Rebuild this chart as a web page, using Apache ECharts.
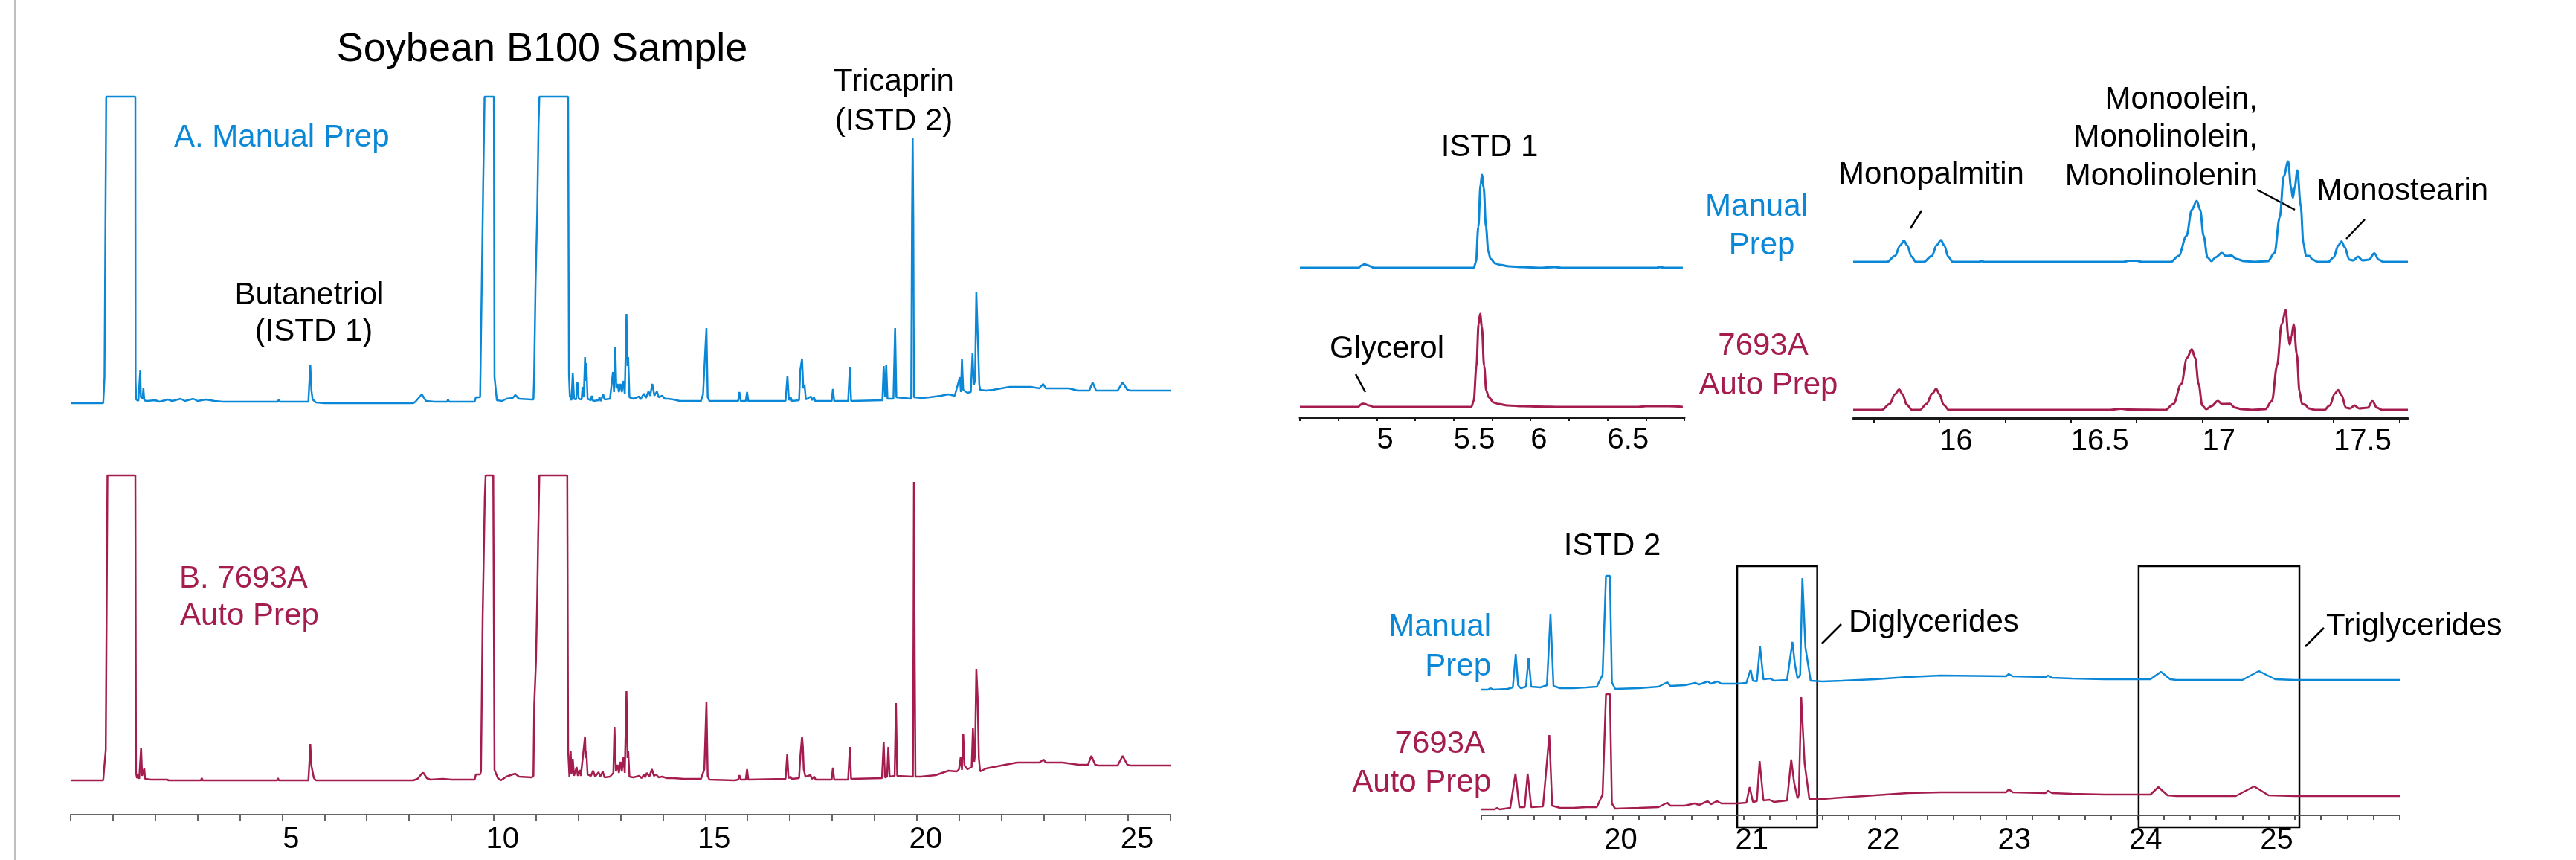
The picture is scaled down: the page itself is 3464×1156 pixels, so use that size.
<!DOCTYPE html>
<html lang="en">
<head>
<meta charset="UTF-8">
<title>Soybean B100 Sample</title>
<style>html,body{margin:0;padding:0;background:#fff}</style>
</head>
<body>
<div id="chart" style="width:3464px;height:1156px"></div>
<script src="https://cdn.jsdelivr.net/npm/echarts@6/dist/echarts.min.js"></script>
<script>
// retention time (min) vs. abundance (arbitrary units)
var leftLabels = [5, 10, 15, 20, 25];
var istd1Labels = [5, 5.5, 6, 6.5];
var monoLabels = [16, 16.5, 17, 17.5];
var glycLabels = [20, 21, 22, 23, 24, 25];

// full run, A. manual prep
var fullManual = [[0,0],[0.77,0],[0.785,17],[0.80,35],[0.84,412],[1.53,412],[1.535,31],[1.55,5],[1.60,3],[1.645,44],[1.66,8],[1.70,6],[1.72,20],[1.74,4],[1.80,3],[2.0,4],[2.1,2],[2.3,5],[2.4,3],[2.6,6],[2.7,3],[2.9,6],[3.0,3],[3.2,5],[3.4,3],[3.6,2],[4.4,2],[4.9,2],[4.92,5],[4.95,2],[5.62,2],[5.645,30],[5.665,52],[5.69,18],[5.72,5],[5.8,1],[6.0,0],[8.1,0],[8.15,2],[8.3,12],[8.4,3],[8.6,2],[8.9,2],[8.92,5],[8.95,2],[9.55,2],[9.58,8],[9.68,8],[9.71,9],[9.75,285],[9.785,412],[10.005,412],[10.02,35],[10.075,4],[10.2,3],[10.3,6],[10.45,7],[10.51,11],[10.6,6],[10.9,5],[10.94,5],[10.955,31],[10.99,161],[11.03,257],[11.06,372],[11.08,412],[11.76,412],[11.78,39],[11.80,10],[11.84,4],[11.87,41],[11.9,6],[11.95,5],[11.98,29],[12.01,6],[12.08,5],[12.10,22],[12.13,8],[12.16,62],[12.175,30],[12.19,54],[12.22,6],[12.3,4],[12.32,10],[12.35,3],[12.48,4],[12.5,8],[12.53,3],[12.59,12],[12.62,5],[12.75,6],[12.82,42],[12.845,15],[12.875,76],[12.9,20],[12.93,26],[12.96,15],[13.0,26],[13.03,15],[13.07,30],[13.1,12],[13.14,120],[13.165,50],[13.18,62],[13.21,8],[13.3,6],[13.44,9],[13.47,5],[13.55,13],[13.6,7],[13.66,16],[13.7,10],[13.75,26],[13.8,10],[13.86,16],[13.9,8],[13.98,10],[14.05,6],[14.12,6],[14.25,5],[14.4,3],[14.9,3],[14.95,12],[14.99,57],[15.03,101],[15.06,8],[15.1,3],[15.78,3],[15.81,15],[15.84,3],[15.96,3],[15.99,15],[16.02,3],[16.9,3],[16.945,37],[16.98,4],[17.02,8],[17.05,3],[17.22,4],[17.25,45],[17.29,60],[17.32,20],[17.35,24],[17.38,5],[17.5,9],[17.53,4],[17.57,8],[17.6,3],[17.99,3],[18.02,19],[18.05,3],[18.38,3],[18.42,49],[18.45,3],[19.19,4],[19.22,50],[19.25,8],[19.28,52],[19.31,6],[19.45,6],[19.49,101],[19.52,8],[19.87,6],[19.89,250],[19.905,357],[19.92,250],[19.935,8],[20.13,7],[20.3,8],[20.57,10],[20.75,12],[20.9,10],[21.02,35],[21.045,15],[21.07,59],[21.1,18],[21.2,14],[21.28,15],[21.32,67],[21.35,25],[21.38,30],[21.41,150],[21.45,80],[21.48,25],[21.5,18],[21.64,17],[21.8,18],[22.0,20],[22.2,22],[22.7,22],[22.9,20],[22.99,26],[23.05,20],[23.6,20],[23.8,17],[24.08,17],[24.16,28],[24.24,17],[24.75,17],[24.87,28],[24.98,18],[25.06,17],[26,17]];

// full run, B. 7693A auto prep
var fullAuto = [[0,0],[0.77,0],[0.79,15],[0.83,41],[0.87,410],[1.53,410],[1.545,10],[1.57,3],[1.60,8],[1.62,2],[1.665,44],[1.69,6],[1.72,4],[1.74,16],[1.76,2],[1.9,1],[1.92,3],[1.95,1],[2.28,1],[2.3,3],[2.32,0],[3.08,0],[3.1,3],[3.12,0],[3.2,0],[3.22,2],[3.24,0],[4.88,0],[4.9,3],[4.92,0],[5.62,0],[5.65,30],[5.665,49],[5.69,20],[5.72,18],[5.75,3],[5.8,0],[8.1,0],[8.2,2],[8.3,9],[8.34,10],[8.42,3],[8.5,1],[8.8,2],[9.0,1],[9.3,1],[9.55,1],[9.58,8],[9.68,8],[9.7,12],[9.74,221],[9.79,380],[9.81,410],[9.99,410],[10.02,14],[10.1,3],[10.17,0],[10.3,5],[10.45,8],[10.51,9],[10.6,5],[10.9,4],[10.94,6],[10.96,103],[11.0,160],[11.03,246],[11.05,322],[11.08,410],[11.74,410],[11.76,41],[11.79,5],[11.82,40],[11.84,8],[11.87,29],[11.9,6],[11.96,18],[11.99,6],[12.03,14],[12.06,6],[12.16,59],[12.175,30],[12.19,40],[12.22,8],[12.3,6],[12.35,13],[12.4,5],[12.48,11],[12.52,5],[12.58,12],[12.62,4],[12.75,5],[12.83,10],[12.856,72],[12.89,12],[12.93,21],[12.96,10],[13.0,25],[13.03,12],[13.07,31],[13.1,10],[13.14,120],[13.165,30],[13.18,40],[13.21,5],[13.3,4],[13.44,6],[13.5,3],[13.55,8],[13.58,4],[13.62,10],[13.68,5],[13.74,15],[13.79,6],[13.84,8],[13.9,4],[13.98,5],[14.1,3],[14.25,3],[14.5,2],[14.9,2],[14.98,15],[15.0,50],[15.03,105],[15.06,6],[15.1,1],[15.7,0],[15.78,1],[15.81,7],[15.84,1],[15.96,1],[15.99,15],[16.02,1],[16.9,2],[16.94,35],[16.97,3],[17.02,5],[17.05,2],[17.22,3],[17.25,33],[17.29,59],[17.31,45],[17.33,15],[17.37,5],[17.49,7],[17.52,2],[17.58,5],[17.61,1],[17.99,1],[18.02,17],[18.05,1],[18.38,1],[18.42,45],[18.45,2],[19.18,3],[19.22,52],[19.25,4],[19.3,5],[19.33,45],[19.36,5],[19.48,6],[19.51,104],[19.54,6],[19.91,5],[19.925,200],[19.935,401],[19.945,401],[19.955,150],[19.97,5],[20.1,5],[20.45,7],[20.7,12],[20.75,13],[20.95,12],[21.0,15],[21.04,31],[21.07,14],[21.1,63],[21.13,20],[21.2,15],[21.3,18],[21.33,70],[21.36,25],[21.38,35],[21.41,150],[21.44,113],[21.47,30],[21.5,12],[21.64,16],[22.0,20],[22.37,24],[22.9,24],[23.0,28],[23.05,24],[23.45,24],[23.83,21],[24.05,21],[24.13,33],[24.22,21],[24.3,20],[24.75,20],[24.87,33],[24.98,21],[25.05,20],[26,20]];

// glycerol / ISTD 1 window
var istd1Manual = [[4.5,0],[4.88,0],[4.9,3],[4.92,4.7],[4.94,3.5],[4.96,2],[4.98,0],[5.63,0],[5.645,8],[5.66,55],[5.675,112],[5.684,125],[5.695,108],[5.71,55],[5.725,22],[5.74,12],[5.77,6],[5.80,4],[5.86,2],[5.95,1],[6.05,0],[6.16,1],[6.2,0],[6.82,0],[6.84,1],[6.87,0],[6.99,0]];
var istd1Auto = [[4.5,0],[4.88,0],[4.895,3],[4.905,4.3],[4.92,4],[4.95,2],[4.98,0],[5.615,0],[5.63,8],[5.648,55],[5.662,112],[5.672,125],[5.683,108],[5.698,55],[5.712,22],[5.728,13],[5.76,6],[5.79,4],[5.85,2],[5.95,1],[6.05,0.5],[6.2,0],[6.7,0],[6.75,1],[6.9,1],[6.99,0]];

// monoglyceride window
var monoManual = [[15.671,0],[15.80,0],[15.83,8],[15.85,22],[15.864,28.6],[15.877,22],[15.893,7],[15.91,0],[15.94,0],[15.97,8],[15.99,23],[16.005,29.3],[16.018,22],[16.033,7],[16.05,0],[16.15,0],[16.16,1],[16.17,0],[16.7,0],[16.72,1.5],[16.75,1.5],[16.77,0],[16.88,0],[16.91,8],[16.94,35],[16.96,70],[16.979,82],[16.992,70],[17.005,35],[17.02,6],[17.035,1],[17.05,6],[17.075,12],[17.09,8],[17.111,8.6],[17.13,4],[17.16,1],[17.2,0],[17.25,1],[17.275,12],[17.295,60],[17.31,115],[17.327,135],[17.338,100],[17.345,86],[17.352,100],[17.362,123],[17.375,75],[17.385,25],[17.395,8],[17.408,8],[17.42,3],[17.44,0],[17.48,0],[17.5,6],[17.518,22],[17.53,27.5],[17.542,20],[17.56,3],[17.575,2],[17.593,7],[17.61,2],[17.635,3],[17.655,11.4],[17.672,3],[17.69,0],[17.783,0]];
var monoAuto = [[15.671,0],[15.78,0],[15.81,8],[15.83,21],[15.846,27.5],[15.859,21],[15.875,7],[15.895,0],[15.925,0],[15.95,8],[15.972,22],[15.987,28.2],[16.0,21],[16.015,7],[16.035,0],[16.65,0],[16.69,1.5],[16.72,0.5],[16.86,0],[16.89,8],[16.92,35],[16.942,70],[16.96,81.4],[16.973,70],[16.986,35],[17.0,6],[17.015,1],[17.035,5],[17.059,12],[17.075,8],[17.105,8.2],[17.125,3],[17.15,1],[17.19,0],[17.24,1],[17.265,12],[17.285,60],[17.302,115],[17.318,134],[17.327,100],[17.333,87.5],[17.34,100],[17.348,115],[17.36,75],[17.37,25],[17.38,8],[17.392,7],[17.405,2],[17.43,0],[17.465,0],[17.485,6],[17.505,22],[17.517,26.8],[17.53,20],[17.547,3],[17.563,2],[17.58,6],[17.597,2],[17.63,3],[17.648,11.8],[17.665,3],[17.685,0],[17.783,0]];

// ISTD 2 / di- and triglyceride window
var glycManual = [[19.0,0],[19.05,0],[19.07,2],[19.09,0],[19.2,1],[19.24,3],[19.262,48],[19.28,6],[19.3,2],[19.34,4],[19.36,43],[19.38,4],[19.45,3],[19.5,6],[19.527,101],[19.55,5],[19.6,2],[19.7,2],[19.8,3],[19.88,4],[19.924,20],[19.95,153],[19.98,153],[19.995,10],[20.02,1],[20.2,2],[20.35,4],[20.417,10],[20.44,5],[20.55,6],[20.63,9],[20.66,7],[20.727,11],[20.75,8],[20.8,11],[20.83,8],[20.95,8],[21.02,9],[21.052,27],[21.07,12],[21.1,11],[21.124,58],[21.15,14],[21.204,15],[21.23,12],[21.33,13],[21.371,64],[21.39,34],[21.41,15],[21.43,20],[21.447,150],[21.47,57],[21.51,12],[21.6,11],[21.75,12],[22.0,14],[22.25,17],[22.5,19],[23.0,18],[23.02,21],[23.05,18],[23.3,17],[23.32,19],[23.35,16],[23.5,15],[23.75,14],[24.0,14],[24.1,14],[24.18,24],[24.25,14],[24.3,13],[24.8,13],[24.926,25],[25.05,14],[25.2,13],[26.0,13]];
var glycAuto = [[19.0,0],[19.1,0],[19.12,2],[19.14,0],[19.22,2],[19.26,48],[19.29,3],[19.33,3],[19.353,48],[19.38,3],[19.47,4],[19.518,100],[19.54,5],[19.6,2],[19.7,2],[19.8,3],[19.88,3],[19.924,20],[19.95,155],[19.98,155],[19.995,8],[20.02,1],[20.2,2],[20.35,3],[20.417,9],[20.44,5],[20.55,5],[20.625,8],[20.66,6],[20.725,11],[20.75,7],[20.797,11],[20.83,8],[20.95,8],[21.02,9],[21.045,30],[21.07,10],[21.1,11],[21.121,65],[21.15,12],[21.196,13],[21.23,10],[21.33,12],[21.362,67],[21.384,36],[21.41,15],[21.42,20],[21.438,151],[21.464,62],[21.5,14],[21.6,14],[21.75,16],[22.0,19],[22.25,22],[22.5,23],[23.0,23],[23.02,27],[23.05,23],[23.3,22],[23.32,25],[23.35,22],[23.5,21],[23.75,20],[24.0,20],[24.1,20],[24.16,30],[24.23,19],[24.3,18],[24.75,18],[24.89,31],[25.0,19],[25.2,18],[26.0,18]];

var diglycBox = [20.95, 21.56];
var triglycBox = [24.01, 25.235];

var BLUE = '#0a87d6', RED = '#a51d4f';
var FONT = "'Liberation Sans', Arial, sans-serif";

function steps(a, b, s) {
    var out = [];
    for (var v = a; v <= b + 1e-9; v += s) out.push(Math.round(v * 1000) / 1000);
    return out;
}

var grids = [], xAxes = [], yAxes = [], series = [];

// one trace = one grid, 1 abundance unit = 1 px
function trace(data, color, lw, left, width, base, xr, yMax, smooth) {
    var g = grids.length;
    grids.push({left: left, width: width, top: base - yMax, height: yMax, outerBoundsMode: 'none'});
    var xi = xAxes.length;
    xAxes.push({gridIndex: g, type: 'value', min: xr[0], max: xr[1], show: false});
    yAxes.push({gridIndex: g, type: 'value', min: 0, max: yMax, show: false});
    series.push({
        type: 'line', xAxisIndex: xi, yAxisIndex: g, data: data,
        symbol: 'none', showSymbol: false, smooth: smooth || false, smoothMonotone: 'x',
        clip: false, silent: true, animation: false,
        lineStyle: {color: color, width: lw}, itemStyle: {color: color}
    });
    return {g: g, xi: xi, xr: xr};
}

function showAxis(t, offset, o) {
    var ax = xAxes[t.xi];
    ax.show = true;
    ax.position = 'bottom';
    ax.offset = offset;
    ax.splitLine = {show: false};
    ax.axisLine = {show: true, onZero: false, lineStyle: {color: o.color, width: o.lw}};
    ax.axisTick = {show: true, inside: false, length: o.tick, customValues: o.ticks, lineStyle: {color: o.color, width: 2}};
    ax.axisLabel = {show: true, customValues: o.labels, color: '#000', fontSize: 40, fontFamily: FONT,
        margin: o.margin, align: o.align || 'center', padding: o.padding || 0};
    if (o.minor) {
        xAxes.push({gridIndex: t.g, type: 'value', min: t.xr[0], max: t.xr[1], position: 'bottom', offset: offset,
            axisLine: {show: false, onZero: false}, axisLabel: {show: false}, splitLine: {show: false},
            axisTick: {show: true, length: o.minorLen, customValues: o.minor, lineStyle: {color: o.color, width: 1.5}}});
    }
}

// left: full chromatograms
trace(fullManual, BLUE, 2.5, 95, 1479, 542, [0, 26], 412);
var lAuto = trace(fullAuto, RED, 2.5, 95, 1479, 1049, [0, 26], 410);
showAxis(lAuto, 46, {color: '#666', lw: 2, tick: 8, ticks: steps(0, 26, 1), labels: leftLabels, margin: 14, padding: [0, 0, 0, 24]});

// upper right: ISTD 1 window
trace(istd1Manual, BLUE, 3, 1748, 517, 360, [4.5, 7.0], 125, 0.35);
var uAuto = trace(istd1Auto, RED, 3, 1748, 517, 547, [4.5, 7.0], 125, 0.35);
showAxis(uAuto, 14, {color: '#1a1a1a', lw: 3, tick: 5, ticks: steps(4.5, 7.0, 0.25), labels: istd1Labels, margin: 11, align: 'left',
    minor: steps(4.5, 7.0, 0.05), minorLen: 2});

// upper right: monoglycerides
trace(monoManual, BLUE, 3, 2492, 746, 352, [15.671, 17.783], 135, 0.35);
var mAuto = trace(monoAuto, RED, 3, 2492, 746, 551, [15.671, 17.783], 135, 0.35);
showAxis(mAuto, 11, {color: '#1a1a1a', lw: 3, tick: 6, ticks: steps(15.75, 17.75, 0.25), labels: monoLabels, margin: 12, align: 'left',
    minor: steps(15.7, 17.75, 0.05), minorLen: 3});

// lower right: ISTD 2, di- and triglycerides
var gMan = trace(glycManual, BLUE, 2.5, 1992, 1235, 927, [19, 26], 153);
var gAuto = trace(glycAuto, RED, 2.5, 1992, 1235, 1088, [19, 26], 155);
showAxis(gAuto, 8, {color: '#555', lw: 2, tick: 6, ticks: steps(19, 26, 0.2), labels: glycLabels, margin: 14, padding: [0, 0, 0, 22]});

var texts = [
    ['Soybean B100 Sample', 729, 67, 54, '#000', 'center'],
    ['A. Manual Prep', 234, 185, 42, BLUE, 'left'],
    ['Butanetriol', 416, 397, 42, '#000', 'center'],
    ['(ISTD 1)', 422, 446, 42, '#000', 'center'],
    ['Tricaprin', 1202, 110, 42, '#000', 'center'],
    ['(ISTD 2)', 1202, 163, 42, '#000', 'center'],
    ['B. 7693A', 241, 778, 42, RED, 'left'],
    ['Auto Prep', 242, 828, 42, RED, 'left'],
    ['ISTD 1', 2003, 198, 42, '#000', 'center'],
    ['Glycerol', 1865, 469, 42, '#000', 'center'],
    ['Manual', 2362, 278, 42, BLUE, 'center'],
    ['Prep', 2369, 330, 42, BLUE, 'center'],
    ['7693A', 2371, 465, 42, RED, 'center'],
    ['Auto Prep', 2378, 518, 42, RED, 'center'],
    ['Monopalmitin', 2597, 235, 42, '#000', 'center'],
    ['Monoolein,', 3036, 134, 42, '#000', 'right'],
    ['Monolinolein,', 3036, 185, 42, '#000', 'right'],
    ['Monolinolenin', 3036, 237, 42, '#000', 'right'],
    ['Monostearin', 3115, 257, 42, '#000', 'left'],
    ['ISTD 2', 2168, 734, 42, '#000', 'center'],
    ['Manual', 2005, 843, 42, BLUE, 'right'],
    ['Prep', 2005, 896, 42, BLUE, 'right'],
    ['7693A', 1997, 1000, 42, RED, 'right'],
    ['Auto Prep', 2005, 1052, 42, RED, 'right'],
    ['Diglycerides', 2486, 837, 42, '#000', 'left'],
    ['Triglycerides', 3128, 842, 42, '#000', 'left']
];
var leaders = [
    [1823, 503, 1836, 527],
    [2584, 283, 2569, 307],
    [3035, 255, 3086, 282],
    [3180, 295, 3155, 321],
    [2450, 865, 2476, 839],
    [3100, 869, 3125, 844]
];

var graphic = [{id: 'frame', type: 'line', shape: {x1: 20, y1: 0, x2: 20, y2: 1156}, style: {stroke: '#bfbfbf', lineWidth: 2}}];
texts.forEach(function (t, i) {
    graphic.push({id: 'txt' + i, type: 'text', silent: true, style: {
        text: t[0], x: t[1], y: t[2], fill: t[4], fontSize: t[3], fontFamily: FONT,
        textAlign: t[5], textVerticalAlign: 'middle'}});
});
leaders.forEach(function (l, i) {
    graphic.push({id: 'lead' + i, type: 'line', silent: true, shape: {x1: l[0], y1: l[1], x2: l[2], y2: l[3]},
        style: {stroke: '#000', lineWidth: 2.5}});
});

var myChart = echarts.init(document.getElementById('chart'), null, {renderer: 'canvas'});
myChart.setOption({
    backgroundColor: '#fff',
    animation: false,
    grid: grids,
    xAxis: xAxes,
    yAxis: yAxes,
    series: series,
    graphic: graphic
});

// boxes around the di- and triglyceride regions, placed through the time axis
var boxes = [diglycBox, triglycBox].map(function (b, i) {
    var x1 = myChart.convertToPixel({xAxisIndex: gMan.xi}, b[0]);
    var x2 = myChart.convertToPixel({xAxisIndex: gMan.xi}, b[1]);
    return {id: 'box' + i, type: 'rect', silent: true, shape: {x: x1, y: 761, width: x2 - x1, height: 351},
        style: {fill: 'none', stroke: '#000', lineWidth: 2.5}};
});
myChart.setOption({graphic: boxes});
</script>
</body>
</html>
